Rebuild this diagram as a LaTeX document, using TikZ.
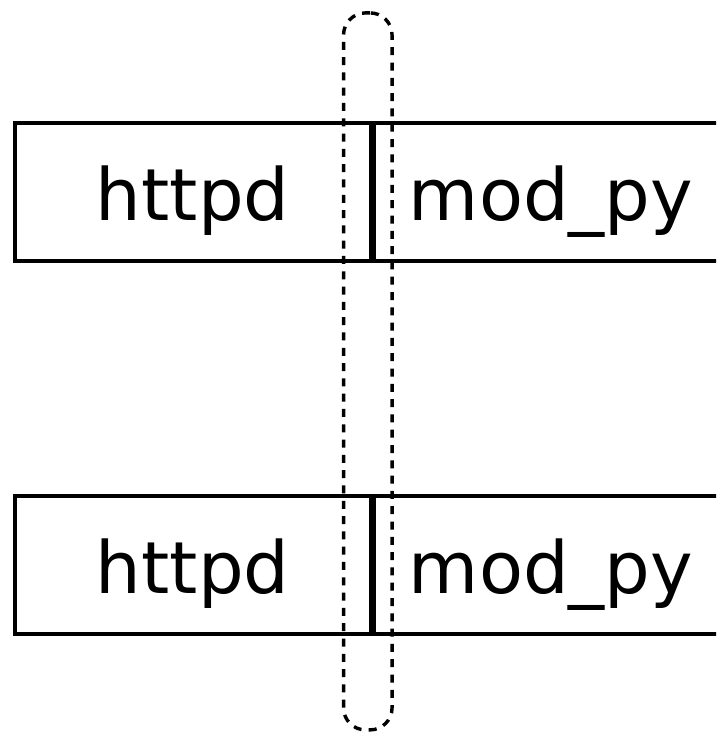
\documentclass[tikz,border=0pt]{standalone}
\usepackage{fontspec}
\setmainfont{DejaVu Sans}
\begin{document}
\begin{tikzpicture}[x=1pt,y=-1pt,
  boxstyle/.style={draw, line width=3.8pt, inner sep=0pt, text height=57pt, text depth=0pt,
    minimum height=138pt, font=\fontsize{72}{86}\selectfont},
  divider/.style={line width=6pt},
  sessring/.style={draw, dash pattern=on 8pt off 7.3pt, line width=3.4pt,
    rounded corners=22pt, inner sep=0pt, minimum width=48.5pt, minimum height=717pt}]
\useasboundingbox (0,0) rectangle (716,733);
\clip (0,0) rectangle (716,733);
% top row
\node[boxstyle, minimum width=356pt] (h1) at (192.7,191.7) {httpd};
\node[boxstyle, minimum width=360pt] (m1) at (551,191.7) {mod\_py};
\draw[divider] (h1.north east) -- (h1.south east);
% bottom row
\node[boxstyle, minimum width=356pt] (h2) at (192.7,565) {httpd};
\node[boxstyle, minimum width=360pt] (m2) at (551,565) {mod\_py};
\draw[divider] (h2.north east) -- (h2.south east);
% dashed session ring
\node[sessring] (sess) at (367.8,371.4) {};
\end{tikzpicture}
\end{document}
